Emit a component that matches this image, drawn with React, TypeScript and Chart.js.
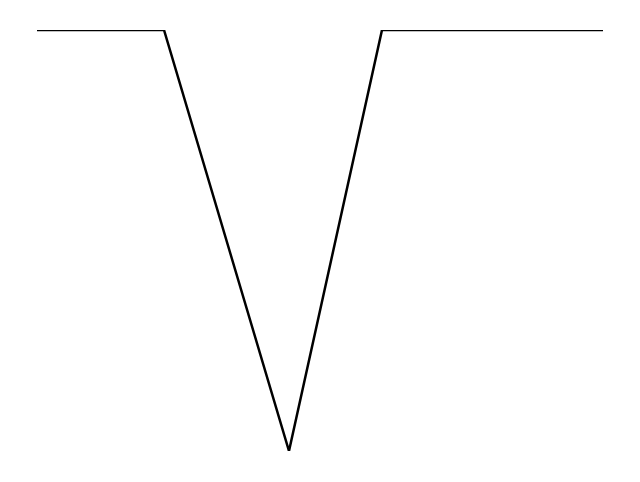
import React, { useEffect, useRef } from "react";
import { Chart, registerables } from "chart.js";

Chart.register(...registerables);

const xValues = [0, 127, 252, 345, 566];
const yValues = [1, 1, 0, 1, 1];

export default function App() {
  const ref = useRef<HTMLCanvasElement | null>(null);
  useEffect(() => {
    if (!ref.current) return;
    const chart = new Chart(ref.current, {
      type: "line",
      data: {
        datasets: [
          {
            data: xValues.map((x, i) => ({ x, y: yValues[i] })),
            borderColor: "#000000",
            borderWidth: 2.5,
            pointRadius: 0,
            tension: 0,
            fill: false,
          },
        ],
      },
      options: {
        animation: false,
        responsive: true,
        maintainAspectRatio: false,
        layout: { padding: { left: 29, right: 29, top: 22, bottom: 23 } },
        plugins: { legend: { display: false }, tooltip: { enabled: false } },
        scales: {
          x: { type: "linear", display: false, min: 0, max: 566 },
          y: { display: false, min: 0, max: 1 },
        },
      },
    });
    return () => chart.destroy();
  }, []);
  return (
    <div style={{ width: 624, height: 466, position: "relative" }}>
      <canvas ref={ref} />
    </div>
  );
}
